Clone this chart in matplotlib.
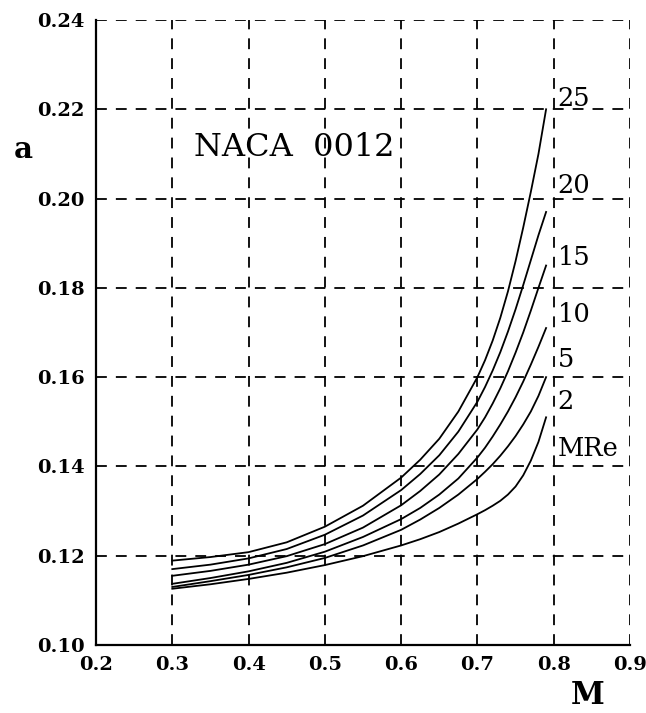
import matplotlib
matplotlib.use("Agg")
import matplotlib.pyplot as plt

# Mach numbers at which the curves were read
mach = [0.30, 0.35, 0.40, 0.45, 0.50, 0.55, 0.60, 0.625, 0.65, 0.675, 0.70,
        0.71, 0.72, 0.73, 0.74, 0.75, 0.76, 0.77, 0.78, 0.79]

re_labels = ["25", "20", "15", "10", "5", "2"]
a_re25 = [0.1189, 0.1197, 0.1208, 0.1230, 0.1265, 0.1312, 0.1375, 0.1415, 0.1462, 0.1523, 0.1600,
          0.1638, 0.1682, 0.1733, 0.1792, 0.1860, 0.1935, 0.2015, 0.2100, 0.2200]
a_re20 = [0.1170, 0.1180, 0.1194, 0.1215, 0.1247, 0.1290, 0.1347, 0.1383, 0.1425, 0.1478, 0.1545,
          0.1578, 0.1615, 0.1656, 0.1702, 0.1752, 0.1806, 0.1862, 0.1918, 0.1970]
a_re15 = [0.1155, 0.1166, 0.1180, 0.1199, 0.1226, 0.1263, 0.1313, 0.1345, 0.1382, 0.1428, 0.1483,
          0.1510, 0.1541, 0.1575, 0.1613, 0.1655, 0.1700, 0.1749, 0.1800, 0.1850]
a_re10 = [0.1137, 0.1150, 0.1165, 0.1184, 0.1209, 0.1242, 0.1282, 0.1307, 0.1337, 0.1373, 0.1420,
          0.1442, 0.1467, 0.1494, 0.1523, 0.1555, 0.1590, 0.1628, 0.1668, 0.1710]
a_re5  = [0.1130, 0.1143, 0.1157, 0.1174, 0.1195, 0.1223, 0.1258, 0.1281, 0.1307, 0.1337, 0.1372,
          0.1388, 0.1405, 0.1424, 0.1445, 0.1468, 0.1494, 0.1523, 0.1558, 0.1600]
a_re2  = [0.1126, 0.1136, 0.1148, 0.1162, 0.1179, 0.1199, 0.1223, 0.1237, 0.1253, 0.1272, 0.1293,
          0.1302, 0.1312, 0.1323, 0.1337, 0.1355, 0.1380, 0.1413, 0.1455, 0.1510]
series = [a_re25, a_re20, a_re15, a_re10, a_re5, a_re2]

label_y = [0.2225, 0.2030, 0.1868, 0.1740, 0.1640, 0.1545]
xticks = [0.2, 0.3, 0.4, 0.5, 0.6, 0.7, 0.8, 0.9]
yticks = [0.10, 0.12, 0.14, 0.16, 0.18, 0.20, 0.22, 0.24]

fig = plt.figure(figsize=(6.46, 7.13), dpi=100)
ax = fig.add_axes([96/646, 1-645/713, 534/646, 625/713])

for s in series:
    ax.plot(mach, s, color="black", lw=1.3)

for lab, y in zip(re_labels + ["MRe"], label_y + [0.1440]):
    ax.text(0.805, y, lab, fontsize=18.5, family="DejaVu Serif", va="center", ha="left")

ax.text(0.328, 0.2115, "NACA  0012", fontsize=23, family="DejaVu Serif", va="center", ha="left")

ax.set_xlim(0.2, 0.9)
ax.set_ylim(0.10, 0.24)
ax.set_xticks(xticks)
ax.set_yticks(yticks)
ax.set_xticklabels([f"{v:.1f}" for v in xticks], fontsize=14, family="DejaVu Serif", fontweight="bold")
ax.set_yticklabels([f"{v:.2f}" for v in yticks], fontsize=14, family="DejaVu Serif", fontweight="bold")
ax.tick_params(length=0, pad=8)
ax.grid(True, color="black", ls=(0, (6, 5)), lw=1.3)
for side in ["top", "right"]:
    ax.spines[side].set_visible(False)
for side in ["left", "bottom"]:
    ax.spines[side].set_linewidth(1.6)

fig.text(23/646, 1-150/713, "a", fontsize=21, family="DejaVu Serif", fontweight="bold", ha="center", va="center")
fig.text(588/646, 1-695/713, "M", fontsize=22, family="DejaVu Serif", fontweight="bold", ha="center", va="center")

fig.savefig("out.png", dpi=100)
